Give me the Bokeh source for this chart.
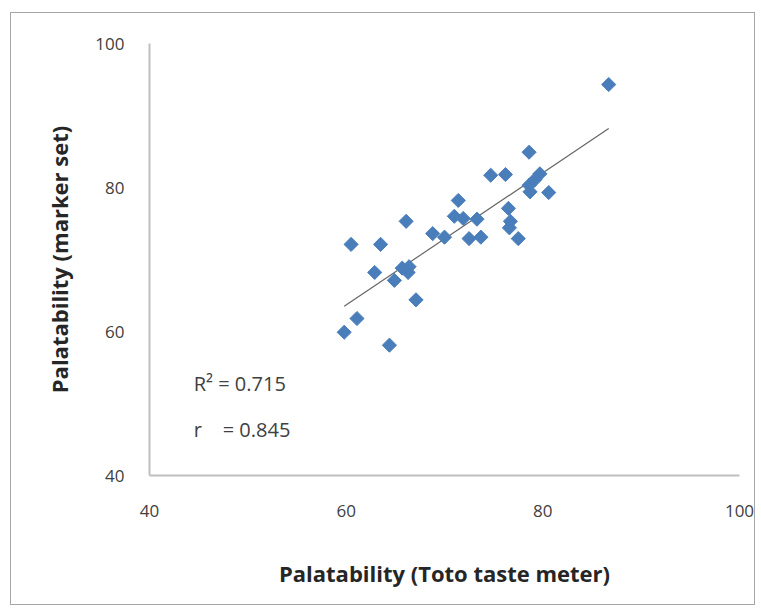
import math
from bokeh.plotting import figure
from bokeh.models import Range1d, FixedTicker, Label
from bokeh.embed import file_html
from bokeh.resources import INLINE

# Data
toto_meter = [86.7, 78.6, 74.7, 76.2, 79.7, 79.2, 78.6, 78.7, 80.6, 71.4,
              76.5, 71.0, 71.9, 73.3, 76.7, 76.6, 66.1, 68.8, 70.0, 72.5,
              73.7, 77.5, 60.5, 63.5, 62.9, 64.9, 65.7, 66.4, 66.3, 67.1,
              61.1, 59.8, 64.4]
marker_set = [94.3, 84.9, 81.7, 81.8, 81.9, 81.1, 80.3, 79.4, 79.3, 78.2,
              77.1, 76.0, 75.7, 75.6, 75.3, 74.4, 75.3, 73.6, 73.1, 72.9,
              73.1, 72.9, 72.1, 72.1, 68.2, 67.1, 68.8, 69.0, 68.2, 64.4,
              61.8, 59.9, 58.1]
trend_x = [59.8, 86.7]
trend_y = [63.5, 88.2]
ticks = [40, 60, 80, 100]
stats_text = ["R\u00b2 = 0.715", "r\u00a0\u00a0\u00a0 = 0.845"]

p = figure(width=745, height=593, output_backend="svg", toolbar_location=None,
           x_range=Range1d(40, 100), y_range=Range1d(40, 100),
           min_border_left=138, min_border_right=17, min_border_top=30,
           min_border_bottom=131)
p.styles = {"position": "absolute", "left": "10px", "top": "12px",
            "border": "1.5px solid #a6a6a6"}
p.outline_line_color = None
p.grid.visible = False
p.background_fill_color = "white"
p.border_fill_color = "white"

for ax in (p.xaxis[0], p.yaxis[0]):
    ax.ticker = FixedTicker(ticks=ticks)
    ax.axis_line_color = "#bfbfbf"
    ax.axis_line_width = 2
    ax.major_tick_line_color = None
    ax.minor_tick_line_color = None
    ax.major_label_text_font = "Open Sans"
    ax.major_label_text_font_size = "17px"
    ax.major_label_text_color = "#404040"
    ax.axis_label_text_font = "Open Sans"
    ax.axis_label_text_font_style = "bold"
    ax.axis_label_text_font_size = "22px"
    ax.axis_label_text_color = "#262626"

p.xaxis.axis_label = "Palatability (Toto taste meter)"
p.yaxis.axis_label = "Palatability (marker set)"
p.xaxis.major_label_standoff = 23
p.yaxis.major_label_standoff = 19
p.xaxis.axis_label_standoff = 38
p.yaxis.axis_label_standoff = 18

p.line(trend_x, trend_y, line_color="#666666", line_width=1.2)
p.scatter(toto_meter, marker_set, marker="square", size=10, angle=math.pi / 4,
          fill_color="#4a7ebb", line_color="#4a7ebb")

p.add_layout(Label(x=44.5, y=52.8, text=stats_text[0], text_font="Open Sans",
                   text_font_size="20px", text_color="#404040",
                   text_baseline="middle"))
p.add_layout(Label(x=44.5, y=46.4, text=stats_text[1], text_font="Open Sans",
                   text_font_size="20px", text_color="#404040",
                   text_baseline="middle"))

open("out.html", "w").write(file_html(p, INLINE))
